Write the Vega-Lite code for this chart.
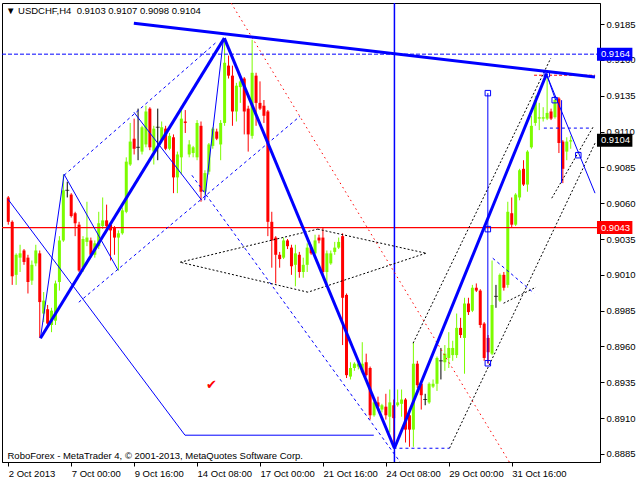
{
  "$schema": "https://vega.github.io/schema/vega-lite/v6.json",
  "width": 598,
  "height": 459,
  "autosize": {"type": "none"},
  "padding": {"left": 2, "top": 3, "right": 40, "bottom": 18},
  "background": "white",
  "title": {"text": "▼ USDCHF,H4\u00a0 0.9103 0.9107 0.9098 0.9104", "anchor": "start", "frame": "group", "orient": "top", "offset": -21, "dx": 4, "baseline": "alphabetic", "font": "Liberation Sans", "fontSize": 9.5, "fontWeight": "normal", "color": "black"},
  "config": {
    "view": {"stroke": "black", "strokeWidth": 1},
    "font": "Liberation Sans",
    "axis": {"grid": false, "domainColor": "black", "tickColor": "black", "labelColor": "black", "labelFont": "Liberation Sans", "labelFontSize": 9.5, "labelOverlap": false, "labelFlush": false}
  },
  "datasets": {
    "candles": [
      {"i":0,"o":0.9064,"h":0.9065,"l":0.9045,"c":0.9047},
      {"i":1,"o":0.9047,"h":0.9048,"l":0.9003,"c":0.9009},
      {"i":2,"o":0.9010,"h":0.9025,"l":0.9003,"c":0.9024},
      {"i":3,"o":0.9022,"h":0.9031,"l":0.9012,"c":0.9025},
      {"i":4,"o":0.9027,"h":0.9028,"l":0.9017,"c":0.9019},
      {"i":5,"o":0.9022,"h":0.9024,"l":0.8997,"c":0.9005},
      {"i":6,"o":0.9006,"h":0.9020,"l":0.9003,"c":0.9017},
      {"i":7,"o":0.9018,"h":0.9031,"l":0.9016,"c":0.9027},
      {"i":8,"o":0.9025,"h":0.9027,"l":0.8966,"c":0.8991},
      {"i":9,"o":0.8983,"h":0.8998,"l":0.8977,"c":0.8992},
      {"i":10,"o":0.8986,"h":0.8989,"l":0.8973,"c":0.8976},
      {"i":11,"o":0.8975,"h":0.8987,"l":0.8970,"c":0.8985},
      {"i":12,"o":0.8978,"h":0.9006,"l":0.8975,"c":0.9004},
      {"i":13,"o":0.9005,"h":0.9037,"l":0.8999,"c":0.9034},
      {"i":14,"o":0.9034,"h":0.9080,"l":0.9033,"c":0.9069},
      {"i":15,"o":0.9069,"h":0.9075,"l":0.9064,"c":0.9069},
      {"i":16,"o":0.9066,"h":0.9067,"l":0.9050,"c":0.9051},
      {"i":17,"o":0.9053,"h":0.9054,"l":0.9037,"c":0.9046},
      {"i":18,"o":0.9045,"h":0.9047,"l":0.9012,"c":0.9013},
      {"i":19,"o":0.9015,"h":0.9037,"l":0.9012,"c":0.9035},
      {"i":20,"o":0.9033,"h":0.9061,"l":0.9030,"c":0.9036},
      {"i":21,"o":0.9034,"h":0.9036,"l":0.9022,"c":0.9024},
      {"i":22,"o":0.9024,"h":0.9034,"l":0.9022,"c":0.9032},
      {"i":23,"o":0.9030,"h":0.9054,"l":0.9028,"c":0.9046},
      {"i":24,"o":0.9044,"h":0.9064,"l":0.9042,"c":0.9048},
      {"i":25,"o":0.9048,"h":0.9059,"l":0.9043,"c":0.9044},
      {"i":26,"o":0.9045,"h":0.9046,"l":0.9020,"c":0.9041},
      {"i":27,"o":0.9043,"h":0.9044,"l":0.9024,"c":0.9036},
      {"i":28,"o":0.9036,"h":0.9041,"l":0.9013,"c":0.9039},
      {"i":29,"o":0.9039,"h":0.9057,"l":0.9038,"c":0.9055},
      {"i":30,"o":0.9054,"h":0.9092,"l":0.9053,"c":0.9089},
      {"i":31,"o":0.9087,"h":0.9116,"l":0.9086,"c":0.9103},
      {"i":32,"o":0.9105,"h":0.9119,"l":0.9094,"c":0.9098},
      {"i":33,"o":0.9099,"h":0.9126,"l":0.9090,"c":0.9099},
      {"i":34,"o":0.9096,"h":0.9114,"l":0.9094,"c":0.9113},
      {"i":35,"o":0.9101,"h":0.9128,"l":0.9099,"c":0.9124},
      {"i":36,"o":0.9126,"h":0.9127,"l":0.9097,"c":0.9099},
      {"i":37,"o":0.9096,"h":0.9114,"l":0.9087,"c":0.9112},
      {"i":38,"o":0.9113,"h":0.9126,"l":0.9090,"c":0.9113},
      {"i":39,"o":0.9104,"h":0.9117,"l":0.9102,"c":0.9113},
      {"i":40,"o":0.9112,"h":0.9114,"l":0.9097,"c":0.9098},
      {"i":41,"o":0.9098,"h":0.9109,"l":0.9097,"c":0.9107},
      {"i":42,"o":0.9106,"h":0.9108,"l":0.9067,"c":0.9078},
      {"i":43,"o":0.9078,"h":0.9096,"l":0.9067,"c":0.9094},
      {"i":44,"o":0.9092,"h":0.9128,"l":0.9080,"c":0.9119},
      {"i":45,"o":0.9117,"h":0.9125,"l":0.9109,"c":0.9116},
      {"i":46,"o":0.9094,"h":0.9104,"l":0.9092,"c":0.9101},
      {"i":47,"o":0.9095,"h":0.9100,"l":0.9092,"c":0.9099},
      {"i":48,"o":0.9092,"h":0.9118,"l":0.9090,"c":0.9116},
      {"i":49,"o":0.9114,"h":0.9117,"l":0.9061,"c":0.9068},
      {"i":50,"o":0.9068,"h":0.9083,"l":0.9066,"c":0.9081},
      {"i":51,"o":0.9082,"h":0.9102,"l":0.9080,"c":0.9101},
      {"i":52,"o":0.9100,"h":0.9113,"l":0.9098,"c":0.9112},
      {"i":53,"o":0.9110,"h":0.9112,"l":0.9104,"c":0.9105},
      {"i":54,"o":0.9101,"h":0.9118,"l":0.9090,"c":0.9116},
      {"i":55,"o":0.9116,"h":0.9175,"l":0.9114,"c":0.9158},
      {"i":56,"o":0.9156,"h":0.9163,"l":0.9147,"c":0.9149},
      {"i":57,"o":0.9149,"h":0.9156,"l":0.9114,"c":0.9124},
      {"i":58,"o":0.9124,"h":0.9144,"l":0.9117,"c":0.9142},
      {"i":59,"o":0.9141,"h":0.9146,"l":0.9130,"c":0.9145},
      {"i":60,"o":0.9147,"h":0.9148,"l":0.9108,"c":0.9124},
      {"i":61,"o":0.9126,"h":0.9128,"l":0.9096,"c":0.9108},
      {"i":62,"o":0.9107,"h":0.9174,"l":0.9105,"c":0.9151},
      {"i":63,"o":0.9149,"h":0.9151,"l":0.9114,"c":0.9130},
      {"i":64,"o":0.9130,"h":0.9145,"l":0.9125,"c":0.9126},
      {"i":65,"o":0.9128,"h":0.9132,"l":0.9116,"c":0.9121},
      {"i":66,"o":0.9124,"h":0.9125,"l":0.9037,"c":0.9047},
      {"i":67,"o":0.9047,"h":0.9054,"l":0.9015,"c":0.9034},
      {"i":68,"o":0.9036,"h":0.9037,"l":0.9004,"c":0.9024},
      {"i":69,"o":0.9024,"h":0.9026,"l":0.9015,"c":0.9021},
      {"i":70,"o":0.9022,"h":0.9036,"l":0.9021,"c":0.9034},
      {"i":71,"o":0.9034,"h":0.9035,"l":0.9028,"c":0.9030},
      {"i":72,"o":0.9029,"h":0.9031,"l":0.9010,"c":0.9016},
      {"i":73,"o":0.9017,"h":0.9031,"l":0.9002,"c":0.9025},
      {"i":74,"o":0.9024,"h":0.9026,"l":0.9008,"c":0.9012},
      {"i":75,"o":0.9012,"h":0.9022,"l":0.9008,"c":0.9017},
      {"i":76,"o":0.9017,"h":0.9032,"l":0.9012,"c":0.9029},
      {"i":77,"o":0.9029,"h":0.9031,"l":0.9024,"c":0.9025},
      {"i":78,"o":0.9025,"h":0.9038,"l":0.9024,"c":0.9034},
      {"i":79,"o":0.9036,"h":0.9038,"l":0.9032,"c":0.9034},
      {"i":80,"o":0.9036,"h":0.9043,"l":0.9010,"c":0.9012},
      {"i":81,"o":0.9012,"h":0.9027,"l":0.9004,"c":0.9025},
      {"i":82,"o":0.9018,"h":0.9027,"l":0.9017,"c":0.9025},
      {"i":83,"o":0.9026,"h":0.9033,"l":0.9024,"c":0.9029},
      {"i":84,"o":0.9029,"h":0.9036,"l":0.9028,"c":0.9033},
      {"i":85,"o":0.9037,"h":0.9039,"l":0.8961,"c":0.8994},
      {"i":86,"o":0.8996,"h":0.8997,"l":0.8938,"c":0.8940},
      {"i":87,"o":0.8939,"h":0.8949,"l":0.8937,"c":0.8945},
      {"i":88,"o":0.8945,"h":0.8949,"l":0.8943,"c":0.8948},
      {"i":89,"o":0.8946,"h":0.8950,"l":0.8944,"c":0.8948},
      {"i":90,"o":0.8942,"h":0.8963,"l":0.8941,"c":0.8948},
      {"i":91,"o":0.8949,"h":0.8955,"l":0.8939,"c":0.8940},
      {"i":92,"o":0.8945,"h":0.8946,"l":0.8909,"c":0.8912},
      {"i":93,"o":0.8912,"h":0.8923,"l":0.8911,"c":0.8921},
      {"i":94,"o":0.8921,"h":0.8925,"l":0.8917,"c":0.8918},
      {"i":95,"o":0.8916,"h":0.8920,"l":0.8914,"c":0.8919},
      {"i":96,"o":0.8918,"h":0.8927,"l":0.8909,"c":0.8912},
      {"i":97,"o":0.8911,"h":0.8930,"l":0.8900,"c":0.8921},
      {"i":98,"o":0.8919,"h":0.8923,"l":0.8890,"c":0.8910},
      {"i":99,"o":0.8919,"h":0.8930,"l":0.8918,"c":0.8921},
      {"i":100,"o":0.8920,"h":0.8930,"l":0.8911,"c":0.8923},
      {"i":101,"o":0.8923,"h":0.8924,"l":0.8893,"c":0.8902},
      {"i":102,"o":0.8912,"h":0.8913,"l":0.8890,"c":0.8902},
      {"i":103,"o":0.8902,"h":0.8963,"l":0.8890,"c":0.8948},
      {"i":104,"o":0.8948,"h":0.8950,"l":0.8931,"c":0.8933},
      {"i":105,"o":0.8934,"h":0.8936,"l":0.8916,"c":0.8926},
      {"i":106,"o":0.8923,"h":0.8927,"l":0.8919,"c":0.8923},
      {"i":107,"o":0.8921,"h":0.8935,"l":0.8920,"c":0.8934},
      {"i":108,"o":0.8932,"h":0.8937,"l":0.8931,"c":0.8934},
      {"i":109,"o":0.8934,"h":0.8953,"l":0.8929,"c":0.8952},
      {"i":110,"o":0.8950,"h":0.8959,"l":0.8937,"c":0.8950},
      {"i":111,"o":0.8949,"h":0.8961,"l":0.8943,"c":0.8955},
      {"i":112,"o":0.8952,"h":0.8970,"l":0.8945,"c":0.8959},
      {"i":113,"o":0.8954,"h":0.8964,"l":0.8950,"c":0.8959},
      {"i":114,"o":0.8954,"h":0.8983,"l":0.8952,"c":0.8973},
      {"i":115,"o":0.8973,"h":0.8980,"l":0.8966,"c":0.8968},
      {"i":116,"o":0.8966,"h":0.8994,"l":0.8941,"c":0.8990},
      {"i":117,"o":0.8990,"h":0.8994,"l":0.8982,"c":0.8984},
      {"i":118,"o":0.8985,"h":0.9003,"l":0.8984,"c":0.9001},
      {"i":119,"o":0.9001,"h":0.9004,"l":0.8998,"c":0.8999},
      {"i":120,"o":0.8999,"h":0.9000,"l":0.8973,"c":0.8975},
      {"i":121,"o":0.8976,"h":0.8977,"l":0.8950,"c":0.8952},
      {"i":122,"o":0.8966,"h":0.8968,"l":0.8948,"c":0.8956},
      {"i":123,"o":0.8955,"h":0.9020,"l":0.8954,"c":0.8989},
      {"i":124,"o":0.8995,"h":0.9003,"l":0.8987,"c":0.8995},
      {"i":125,"o":0.8992,"h":0.9011,"l":0.8991,"c":0.9010},
      {"i":126,"o":0.9010,"h":0.9012,"l":0.8999,"c":0.9001},
      {"i":127,"o":0.9003,"h":0.9061,"l":0.9001,"c":0.9054},
      {"i":128,"o":0.9053,"h":0.9064,"l":0.9043,"c":0.9045},
      {"i":129,"o":0.9045,"h":0.9067,"l":0.9044,"c":0.9066},
      {"i":130,"o":0.9064,"h":0.9084,"l":0.9062,"c":0.9083},
      {"i":131,"o":0.9084,"h":0.9090,"l":0.9072,"c":0.9073},
      {"i":132,"o":0.9073,"h":0.9097,"l":0.9068,"c":0.9096},
      {"i":133,"o":0.9099,"h":0.9121,"l":0.9098,"c":0.9114},
      {"i":134,"o":0.9116,"h":0.9135,"l":0.9114,"c":0.9132},
      {"i":135,"o":0.9119,"h":0.9130,"l":0.9111,"c":0.9120},
      {"i":136,"o":0.9119,"h":0.9127,"l":0.9117,"c":0.9120},
      {"i":137,"o":0.9119,"h":0.9150,"l":0.9118,"c":0.9123},
      {"i":138,"o":0.9124,"h":0.9126,"l":0.9118,"c":0.9119},
      {"i":139,"o":0.9120,"h":0.9133,"l":0.9119,"c":0.9132},
      {"i":140,"o":0.9133,"h":0.9134,"l":0.9095,"c":0.9102},
      {"i":141,"o":0.9103,"h":0.9104,"l":0.9074,"c":0.9084},
      {"i":142,"o":0.9096,"h":0.9106,"l":0.9090,"c":0.9103},
      {"i":143,"o":0.9103,"h":0.9107,"l":0.9098,"c":0.9104}
    ],
    "segs": [
      {"k":"thick","i1":31.93,"p1":0.91856,"i2":149.18,"p2":0.9148},
      {"k":"thick","i1":8.18,"p1":0.89658,"i2":54.93,"p2":0.91752},
      {"k":"thick","i1":54.93,"p1":0.91752,"i2":98.18,"p2":0.8889},
      {"k":"thick","i1":98.18,"p1":0.8889,"i2":136.93,"p2":0.91507},
      {"k":"thin","i1":-0.08,"p1":0.90628,"i2":44.93,"p2":0.88981},
      {"k":"thin","i1":44.93,"p1":0.88981,"i2":92.93,"p2":0.88981},
      {"k":"thin","i1":8.18,"p1":0.89658,"i2":14.18,"p2":0.90802},
      {"k":"thin","i1":14.18,"p1":0.90802,"i2":27.93,"p2":0.90132},
      {"k":"thin","i1":31.93,"p1":0.91235,"i2":49.18,"p2":0.90621},
      {"k":"thin","i1":49.93,"p1":0.90621,"i2":54.68,"p2":0.91738},
      {"k":"thin","i1":121.93,"p1":0.91368,"i2":121.93,"p2":0.89483},
      {"k":"thin","i1":136.93,"p1":0.91493,"i2":149.18,"p2":0.9067},
      {"k":"thin","i1":136.93,"p1":0.91493,"i2":139.18,"p2":0.91319},
      {"k":"thin","i1":140.68,"p1":0.91319,"i2":140.68,"p2":0.9074},
      {"k":"bdash","i1":14.18,"p1":0.90795,"i2":52.93,"p2":0.91724},
      {"k":"bdash","i1":17.93,"p1":0.89909,"i2":74.18,"p2":0.91207},
      {"k":"bdash","i1":46.68,"p1":0.90795,"i2":99.68,"p2":0.88792},
      {"k":"bdash","i1":97.93,"p1":0.8889,"i2":112.18,"p2":0.8889},
      {"k":"bdash","i1":136.18,"p1":0.91124,"i2":147.93,"p2":0.91124},
      {"k":"bdash","i1":123.18,"p1":0.90216,"i2":133.68,"p2":0.89972},
      {"k":"kdot","i1":43.68,"p1":0.90188,"i2":78.68,"p2":0.90419},
      {"k":"kdot","i1":78.68,"p1":0.90419,"i2":106.18,"p2":0.90251},
      {"k":"kdot","i1":106.18,"p1":0.90251,"i2":76.18,"p2":0.89979},
      {"k":"kdot","i1":76.18,"p1":0.89979,"i2":43.68,"p2":0.90188},
      {"k":"kdot","i1":102.93,"p1":0.89623,"i2":137.93,"p2":0.91612},
      {"k":"kdot","i1":112.18,"p1":0.8889,"i2":149.18,"p2":0.91019},
      {"k":"kdot","i1":138.18,"p1":0.90635,"i2":148.68,"p2":0.91131},
      {"k":"kdot","i1":125.93,"p1":0.89902,"i2":134.18,"p2":0.90014},
      {"k":"rdot","i1":56.68,"p1":0.91996,"i2":127.43,"p2":0.88792},
      {"k":"rdash","i1":133.68,"p1":0.91493,"i2":149.18,"p2":0.91493}
    ],
    "hlines": [
      {"k":"support","p":0.9043},
      {"k":"level","p":0.9164}
    ],
    "vlines": [{"i":98.18}],
    "tags": [
      {"k":"level","p":0.9164,"t":"0.9164"},
      {"k":"support","p":0.9043,"t":"0.9043"},
      {"k":"bid","p":0.9104,"t":"0.9104"}
    ],
    "squares": [
      {"i":121.93,"p":0.90419},
      {"i":121.93,"p":0.89483},
      {"i":121.93,"p":0.91368},
      {"i":144.93,"p":0.90935},
      {"i":138.93,"p":0.91319},
      {"i":136.93,"p":0.915}
    ],
    "marks": [{"i":51.68,"p":0.8933,"t":"✔"}]
  },
  "layer": [
    {
      "data": {"name": "candles"},
      "mark": {"type": "rule", "strokeWidth": 1, "clip": true},
      "encoding": {
        "x": {"field": "i", "type": "quantitative", "scale": {"domain": [-0.325, 149.175], "nice": false, "zero": false},
          "axis": {"values": [0,16,32,48,64,80,96,112,128], "tickCount": 20, "labelExpr": "['2 Oct 2013','7 Oct 00:00','9 Oct 16:00','14 Oct 08:00','17 Oct 00:00','21 Oct 16:00','24 Oct 08:00','29 Oct 00:00','31 Oct 16:00'][round(datum.value/16)]", "labelAlign": "left", "labelDx": -1, "labelPadding": 2, "labelBaseline": "top", "tickSize": 4, "labelOverlap": false, "labelFlush": false,
            "title": "RoboForex - MetaTrader 4, © 2001-2013, MetaQuotes Software Corp.", "titleAnchor": "start", "titleAlign": "left", "titleX": 5, "titleY": -4, "titleBaseline": "alphabetic", "titleFont": "Liberation Sans", "titleFontSize": 9.5, "titleFontWeight": "normal", "titleColor": "black"}},
        "y": {"field": "l", "type": "quantitative", "scale": {"domain": [0.88794, 0.91997], "nice": false, "zero": false},
          "axis": {"orient": "right", "values": [0.8885,0.891,0.8935,0.896,0.8985,0.901,0.9035,0.906,0.9085,0.911,0.9135,0.916,0.9185], "tickCount": 20, "format": ".4f", "tickSize": 4, "labelPadding": 2, "labelBaseline": "middle", "labelOverlap": false, "labelFlush": false, "title": null}},
        "y2": {"field": "h"},
        "color": {"condition": [{"test": "datum.c > datum.o", "value": "#7CFC00"}, {"test": "datum.c < datum.o", "value": "#FF0000"}], "value": "#000000"}
      }
    },
    {
      "data": {"name": "candles"},
      "mark": {"type": "bar", "size": 3, "clip": true},
      "encoding": {
        "x": {"field": "i", "type": "quantitative", "scale": {"domain": [-0.325, 149.175], "nice": false, "zero": false}},
        "y": {"field": "o", "type": "quantitative", "scale": {"domain": [0.88794, 0.91997], "nice": false, "zero": false}},
        "y2": {"field": "c"},
        "color": {"condition": [{"test": "datum.c > datum.o", "value": "#7CFC00"}, {"test": "datum.c < datum.o", "value": "#FF0000"}], "value": "#000000"}
      }
    },
    {
      "data": {"name": "candles"},
      "transform": [{"filter": "datum.o == datum.c"}],
      "mark": {"type": "tick", "orient": "horizontal", "size": 4, "thickness": 1, "color": "#000000", "clip": true},
      "encoding": {
        "x": {"field": "i", "type": "quantitative", "scale": {"domain": [-0.325, 149.175], "nice": false, "zero": false}},
        "y": {"field": "c", "type": "quantitative", "scale": {"domain": [0.88794, 0.91997], "nice": false, "zero": false}}
      }
    },
    {
      "data": {"name": "hlines"},
      "transform": [{"filter": "datum.k == 'support'"}],
      "mark": {"type": "rule", "color": "#FF0000", "strokeWidth": 1.2},
      "encoding": {
        "y": {"field": "p", "type": "quantitative", "scale": {"domain": [0.88794, 0.91997], "nice": false, "zero": false}}
      }
    },
    {
      "data": {"name": "hlines"},
      "transform": [{"filter": "datum.k == 'level'"}],
      "mark": {"type": "rule", "color": "#0000FF", "strokeWidth": 1, "strokeDash": [4, 2]},
      "encoding": {
        "y": {"field": "p", "type": "quantitative", "scale": {"domain": [0.88794, 0.91997], "nice": false, "zero": false}}
      }
    },
    {
      "data": {"name": "vlines"},
      "mark": {"type": "rule", "color": "#0000FF", "strokeWidth": 1.5},
      "encoding": {
        "x": {"field": "i", "type": "quantitative", "scale": {"domain": [-0.325, 149.175], "nice": false, "zero": false}}
      }
    },
    {
      "data": {"name": "segs"},
      "transform": [{"filter": "datum.k == 'kdot'"}],
      "mark": {"type": "rule", "color": "#000000", "strokeWidth": 1, "strokeDash": [2, 2], "clip": true},
      "encoding": {
        "x": {"field": "i1", "type": "quantitative", "scale": {"domain": [-0.325, 149.175], "nice": false, "zero": false}},
        "x2": {"field": "i2"},
        "y": {"field": "p1", "type": "quantitative", "scale": {"domain": [0.88794, 0.91997], "nice": false, "zero": false}},
        "y2": {"field": "p2"}
      }
    },
    {
      "data": {"name": "segs"},
      "transform": [{"filter": "datum.k == 'rdot'"}],
      "mark": {"type": "rule", "color": "#FF0000", "strokeWidth": 1, "strokeDash": [1.5, 3.5], "clip": true},
      "encoding": {
        "x": {"field": "i1", "type": "quantitative", "scale": {"domain": [-0.325, 149.175], "nice": false, "zero": false}},
        "x2": {"field": "i2"},
        "y": {"field": "p1", "type": "quantitative", "scale": {"domain": [0.88794, 0.91997], "nice": false, "zero": false}},
        "y2": {"field": "p2"}
      }
    },
    {
      "data": {"name": "segs"},
      "transform": [{"filter": "datum.k == 'rdash'"}],
      "mark": {"type": "rule", "color": "#FF0000", "strokeWidth": 1, "strokeDash": [3, 2], "clip": true},
      "encoding": {
        "x": {"field": "i1", "type": "quantitative", "scale": {"domain": [-0.325, 149.175], "nice": false, "zero": false}},
        "x2": {"field": "i2"},
        "y": {"field": "p1", "type": "quantitative", "scale": {"domain": [0.88794, 0.91997], "nice": false, "zero": false}},
        "y2": {"field": "p2"}
      }
    },
    {
      "data": {"name": "segs"},
      "transform": [{"filter": "datum.k == 'bdash'"}],
      "mark": {"type": "rule", "color": "#0000FF", "strokeWidth": 1, "strokeDash": [3, 3], "clip": true},
      "encoding": {
        "x": {"field": "i1", "type": "quantitative", "scale": {"domain": [-0.325, 149.175], "nice": false, "zero": false}},
        "x2": {"field": "i2"},
        "y": {"field": "p1", "type": "quantitative", "scale": {"domain": [0.88794, 0.91997], "nice": false, "zero": false}},
        "y2": {"field": "p2"}
      }
    },
    {
      "data": {"name": "segs"},
      "transform": [{"filter": "datum.k == 'thin'"}],
      "mark": {"type": "rule", "color": "#0000FF", "strokeWidth": 1, "clip": true},
      "encoding": {
        "x": {"field": "i1", "type": "quantitative", "scale": {"domain": [-0.325, 149.175], "nice": false, "zero": false}},
        "x2": {"field": "i2"},
        "y": {"field": "p1", "type": "quantitative", "scale": {"domain": [0.88794, 0.91997], "nice": false, "zero": false}},
        "y2": {"field": "p2"}
      }
    },
    {
      "data": {"name": "segs"},
      "transform": [{"filter": "datum.k == 'thick'"}],
      "mark": {"type": "rule", "color": "#0000FF", "strokeWidth": 3, "clip": true},
      "encoding": {
        "x": {"field": "i1", "type": "quantitative", "scale": {"domain": [-0.325, 149.175], "nice": false, "zero": false}},
        "x2": {"field": "i2"},
        "y": {"field": "p1", "type": "quantitative", "scale": {"domain": [0.88794, 0.91997], "nice": false, "zero": false}},
        "y2": {"field": "p2"}
      }
    },
    {
      "data": {"name": "squares"},
      "mark": {"type": "point", "shape": "square", "filled": false, "size": 30, "color": "#0000FF", "strokeWidth": 1, "opacity": 1},
      "encoding": {
        "x": {"field": "i", "type": "quantitative", "scale": {"domain": [-0.325, 149.175], "nice": false, "zero": false}},
        "y": {"field": "p", "type": "quantitative", "scale": {"domain": [0.88794, 0.91997], "nice": false, "zero": false}}
      }
    },
    {
      "data": {"name": "marks"},
      "mark": {"type": "text", "color": "#FF0000", "font": "DejaVu Sans", "fontSize": 13, "align": "center", "baseline": "middle"},
      "encoding": {
        "x": {"field": "i", "type": "quantitative", "scale": {"domain": [-0.325, 149.175], "nice": false, "zero": false}},
        "y": {"field": "p", "type": "quantitative", "scale": {"domain": [0.88794, 0.91997], "nice": false, "zero": false}},
        "text": {"field": "t"}
      }
    },
    {
      "data": {"name": "tags"},
      "mark": {"type": "rule", "strokeWidth": 13, "strokeCap": "butt", "clip": false},
      "encoding": {
        "x": {"datum": 149.68, "type": "quantitative", "scale": {"domain": [-0.325, 149.175], "nice": false, "zero": false}},
        "x2": {"datum": 158.68},
        "y": {"field": "p", "type": "quantitative", "scale": {"domain": [0.88794, 0.91997], "nice": false, "zero": false}},
        "color": {"field": "k", "type": "nominal", "scale": {"domain": ["level", "support", "bid"], "range": ["#0000FF", "#FF0000", "#000000"]}, "legend": null}
      }
    },
    {
      "data": {"name": "tags"},
      "mark": {"type": "text", "color": "white", "font": "Liberation Sans", "fontSize": 9.5, "align": "left", "baseline": "middle", "clip": false},
      "encoding": {
        "x": {"datum": 150.68, "type": "quantitative", "scale": {"domain": [-0.325, 149.175], "nice": false, "zero": false}},
        "y": {"field": "p", "type": "quantitative", "scale": {"domain": [0.88794, 0.91997], "nice": false, "zero": false}},
        "text": {"field": "t"}
      }
    }
  ]
}
